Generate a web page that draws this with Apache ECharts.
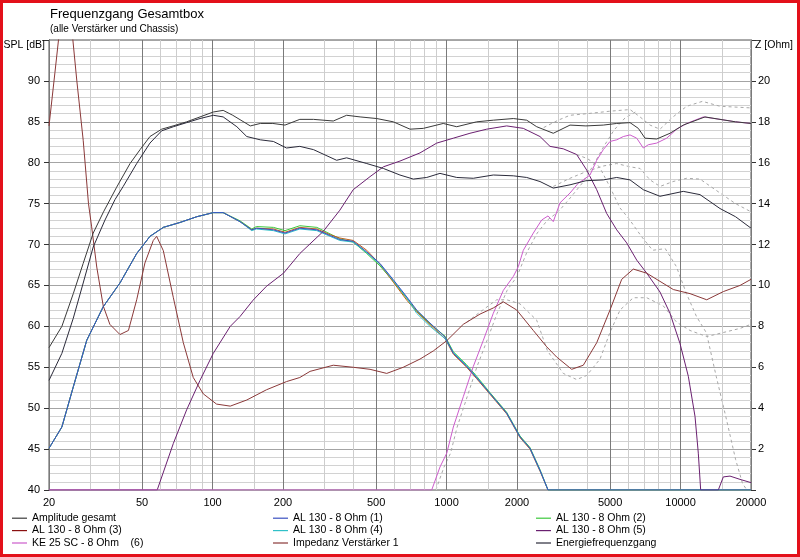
<!DOCTYPE html>
<html><head><meta charset="utf-8">
<script src="https://cdn.jsdelivr.net/npm/echarts@6/dist/echarts.min.js"></script>
<style>
html,body{margin:0;padding:0;background:#fff;}
#c{width:800px;height:557px;position:absolute;left:0;top:0;}
#frame{position:absolute;left:0;top:0;width:800px;height:557px;box-sizing:border-box;border:3px solid #e3101a;pointer-events:none;}
</style></head>
<body><div id="c"></div><div id="frame"></div>
<script>
// ---- data ----
const gridFreqs = [20,30,40,50,60,70,80,90,100,150,200,300,400,500,600,700,800,900,1000,1500,2000,3000,4000,5000,6000,7000,8000,9000,10000,15000,20000];
const labelFreqs = [20,50,100,200,500,1000,2000,5000,10000,20000];

const ampFreq = [20,22.7,25.4,28,30.9,34.2,38.9,44.4,49,54,60.6,67.8,77.5,88.4,100.7,111,122,145,160,181,204,236,270,328,374,427,503,592,698,796,968,1105,1345,1584,1929,2200,2428,2858,3370,3940,4676,5334,6082,6600,7048,7908,9012,10270,12720,14744,17180,20000];
const ampVal  = [57.4,60.0,64.0,67.7,71.4,74.0,77.0,79.9,81.6,83.2,84.1,84.5,85.0,85.6,86.2,86.4,85.8,84.5,84.8,84.8,84.6,85.3,85.3,85.1,85.8,85.6,85.4,85.0,84.1,84.2,84.8,84.4,85.0,85.2,85.4,85.2,84.4,83.6,84.6,84.5,84.6,84.8,84.9,84.2,83.0,82.9,83.6,84.6,85.6,85.3,85.0,84.8];

const enFreq = [20,22.7,25.4,28,30.9,34.7,38.3,41.5,47.4,54,60.6,68,77.5,88.4,100.7,111,127,140,160,182,207,236,270,339,374,456,537,632,721,823,937,1105,1301,1584,1929,2200,2508,2858,3370,3940,4676,5334,6082,6932,8168,10270,12108,14744,17180,20000];
const enVal  = [53.4,56.7,61.0,65.3,69.7,73.0,75.5,77.1,79.9,82.4,83.9,84.4,84.9,85.4,85.8,85.6,84.4,83.2,82.8,82.6,81.8,82.0,81.6,80.3,80.6,79.9,79.3,78.5,78.0,78.2,78.7,78.2,78.1,78.5,78.4,78.2,77.7,76.9,77.3,77.8,77.9,78.2,77.9,76.7,75.9,76.5,76.1,74.4,73.4,72.0];

const woofFreq = [20,22.7,25.4,29,34.1,40.2,47.4,54,61.6,72.6,85.6,100.7,111,131,147,154,182,204,236,279,318,350,399,456,519,592,676,745,850,985,1069,1219,1345,1533,1807,2060,2272,2508,2714,5000,10000,20000];
const woof1 = [45.1,47.7,52.6,58.3,62.4,65.3,68.9,71.0,72.1,72.7,73.4,73.9,73.9,72.8,71.8,72.0,71.8,71.4,72.0,71.8,71.1,70.6,70.4,69.1,67.7,65.7,63.6,62.0,60.4,58.7,56.7,55.1,53.7,51.8,49.4,46.5,45.1,42.4,40,40,40,40];
const woof2 = [45.1,47.7,52.6,58.3,62.4,65.3,68.9,71.0,72.1,72.7,73.4,73.9,73.9,72.9,71.9,72.2,72.1,71.7,72.3,72.1,71.3,70.7,70.3,68.9,67.4,65.5,63.4,61.9,60.3,58.8,56.9,55.3,53.9,51.9,49.5,46.6,45.2,42.5,40,40,40,40];
const woof3 = [45.1,47.7,52.6,58.3,62.4,65.3,68.9,71.0,72.1,72.7,73.4,73.9,73.9,72.8,71.8,72.0,71.9,71.5,72.1,71.9,71.2,70.8,70.5,69.3,67.6,65.4,63.2,61.8,60.2,58.5,56.6,55.0,53.6,51.7,49.3,46.4,45.0,42.3,40,40,40,40];
const woof4 = [45.1,47.7,52.6,58.3,62.4,65.3,68.9,71.0,72.1,72.7,73.4,73.9,73.9,72.8,71.7,71.9,71.7,71.3,71.9,71.7,71.0,70.5,70.3,69.0,67.6,65.6,63.5,61.6,60.0,58.5,56.8,55.2,53.8,51.8,49.4,46.5,45.1,42.4,40,40,40,40];

const midFreq = [20,58,68,77.5,88.4,100.7,119,131,149,170,201,236,297,350,399,471,537,632,770,908,1069,1259,1484,1807,2128,2508,2768,3154,3598,3972,4382,4834,5334,5886,6496,7168,8168,9012,9946,10794,11528,11908,12190,14498,15232,16268,17948,20000];
const midVal  = [40,40,45.7,49.8,53.4,56.7,60.0,61.2,63.2,64.9,66.5,68.9,71.6,74.2,76.7,78.3,79.5,80.2,81.2,82.4,83.0,83.6,84.1,84.5,84.2,83.2,82.0,81.7,81.0,79.1,76.7,73.8,71.8,70.2,68.1,66.5,64.2,61.6,57.9,53.9,49.0,44.5,40,40,41.6,41.7,41.3,40.9];

const tweetFreq = [20,864,937,1002,1069,1179,1301,1436,1584,1748,1929,2026,2128,2348,2550,2714,2858,3054,3370,3656,3840,4102,4382,4676,4994,5334,5694,6082,6496,6932,7282,7908,8724,9628,10624,12512,14744,17180,20000];
const tweetVal  = [40,40,42.8,44.5,47.7,51.4,55.1,58.3,61.6,64.4,66.1,67.3,69.3,71.4,73.0,73.5,72.8,75.1,76.3,77.5,77.9,78.5,80.3,81.6,82.6,82.8,83.2,83.4,83.0,81.8,82.2,82.4,83.0,84.1,84.8,85.6,85.3,85.0,84.8];

const impFreq = [20,21.2,22.2,23.6,25.0,26.3,28,29.5,30.4,32,34.1,36.4,40.2,43.7,47.4,51.4,55.8,57.7,61.6,68,75,82.7,91.3,104,119,140,170,207,236,261,328,399,471,555,653,770,878,1002,1179,1390,1584,1748,1994,2348,2680,2955,3426,3840,4382,4994,5604,6282,7168,8168,9312,10976,12936,15232,17948,20000];
const impVal  = [17.8,20.4,22.5,25.0,22.6,20.0,17.1,14.0,12.9,10.9,9.0,8.1,7.6,7.8,9.3,11.1,12.2,12.4,11.7,9.4,7.2,5.5,4.7,4.2,4.1,4.4,4.9,5.3,5.5,5.8,6.1,6.0,5.9,5.7,6.0,6.4,6.8,7.3,8.1,8.6,8.9,9.2,8.8,7.8,7.0,6.5,5.9,6.1,7.2,8.8,10.3,10.8,10.6,10.2,9.8,9.6,9.3,9.7,10.0,10.3];

// dashed comparison traces (no legend entry)
const ampDashFreq = [2600,3000,3370,4000,5000,6082,6710,7406,8168,9284,10624,12400,14744,20000];
const ampDashVal  = [84.3,85.2,85.8,86.0,86.3,86.5,85.6,84.6,84.1,85.6,86.9,87.5,86.9,86.7];
const enDashFreq = [2858,3370,3940,4676,5334,6082,6710,7406,8168,9284,10624,12108,14744,17180,20000];
const enDashVal  = [77.1,78.1,78.9,79.6,79.9,79.5,79.3,77.9,77.1,77.7,78.1,78.0,76.3,75.0,74.0];
const tweetDashFreq = [900,975,1040,1110,1225,1350,1490,1645,1815,2000,2200,2440,2700,3000,3400,3800,4200,4700,5200,5800,6500];
const tweetDashVal  = [40,42.8,44.5,47.7,51.4,55.1,58.3,61.6,64.4,66.1,69.0,71.4,73.0,74.0,75.8,77.5,79.5,82.0,84.0,85.5,86.3];
const midDashFreq = [3598,4000,4500,5000,5500,6000,6800,7600,8600,9600,10600,11700,12900,14200,15600,17200,18400,19200];
const midDashVal  = [81.0,80.5,79.5,77.0,74.5,73.2,71.0,69.3,69.5,67.3,64.0,61.2,59.2,53.9,49.0,43.7,40.8,40];
const impDashFreq = [1219,1390,1638,1807,2060,2428,2700,3154,3598,3972,4526,4994,5512,6282,7168,8438,9628,10976,12936,15232,17948,20000];
const impDashVal  = [8.2,8.7,9.3,9.3,9.1,8.3,6.8,5.7,5.4,5.6,6.4,7.7,8.8,9.4,9.4,9.0,8.2,7.8,7.5,7.7,7.9,8.1];

const names = ['Amplitude gesamt','AL 130 - 8 Ohm (1)','AL 130 - 8 Ohm (2)','AL 130 - 8 Ohm (3)','AL 130 - 8 Ohm (4)','AL 130 - 8 Ohm (5)','KE 25 SC - 8 Ohm    (6)','Impedanz Verstärker 1','Energiefrequenzgang'];

// ---- build ----
const zip = (f, v) => f.map((x, i) => [x, v[i]]);
const FONT = 'Liberation Sans';
function line(name, data, color, opts) {
  return Object.assign({
    name, type: 'line', data, showSymbol: false, symbol: 'none', smooth: false,
    lineStyle: { color, width: 1 }, itemStyle: { color }, z: 5, clip: true,
    animation: false, silent: true
  }, opts || {});
}
function dashed(data, yIdx) {
  return {
    type: 'line', data, showSymbol: false, symbol: 'none', yAxisIndex: yIdx || 0,
    lineStyle: { color: '#a8a8a8', width: 1, type: [3, 3] }, z: 3, animation: false, silent: true
  };
}

const gridMarks = gridFreqs.map(f => {
  const lab = labelFreqs.indexOf(f) >= 0;
  return {
    xAxis: f,
    lineStyle: { color: lab ? '#7a7a7a' : '#cdcdcd', width: 1, type: 'solid' },
    label: { show: lab, formatter: String(f), position: 'start', distance: 7, color: '#000', fontSize: 11, fontFamily: FONT }
  };
});

const series = [
  { type: 'line', data: [], z: 1, silent: true, animation: false,
    markLine: { silent: true, symbol: ['none', 'none'], animation: false, data: gridMarks } },
  dashed(zip(ampDashFreq, ampDashVal)),
  dashed(zip(enDashFreq, enDashVal)),
  dashed(zip(tweetDashFreq, tweetDashVal)),
  dashed(zip(midDashFreq, midDashVal)),
  dashed(zip(impDashFreq, impDashVal), 1),
  line(names[0], zip(ampFreq, ampVal), '#3a3a3a', { z: 8 }),
  line(names[2], zip(woofFreq, woof2), '#3cc83c', { z: 5 }),
  line(names[3], zip(woofFreq, woof3), '#c0601c', { z: 5 }),
  line(names[4], zip(woofFreq, woof4), '#30c0c8', { z: 6 }),
  line(names[1], zip(woofFreq, woof1), '#3a50c0', { z: 7 }),
  line(names[5], zip(midFreq, midVal), '#6a2070', { z: 6 }),
  line(names[6], zip(tweetFreq, tweetVal), '#cc5ccc', { z: 6 }),
  line(names[7], zip(impFreq, impVal), '#8a3838', { yAxisIndex: 1, z: 6 }),
  line(names[8], zip(enFreq, enVal), '#2a2a3a', { z: 8 })
];
series[8].itemStyle.color = '#8a1010';

const legendBase = {
  orient: 'vertical', icon: 'rect', itemWidth: 15, itemHeight: 1.2, itemGap: 0,
  textStyle: { fontSize: 10.5, fontFamily: FONT, color: '#000', lineHeight: 12.4 },
  selectedMode: false, top: 512, padding: 0
};

const option = {
  backgroundColor: '#fff',
  animation: false,
  textStyle: { fontFamily: FONT },
  title: {
    text: 'Frequenzgang Gesamtbox', subtext: '(alle Verstärker und Chassis)',
    left: 50, top: 8, itemGap: 3, padding: 0,
    textStyle: { fontSize: 13, fontWeight: 'normal', color: '#000', fontFamily: FONT },
    subtextStyle: { fontSize: 10, color: '#000', fontFamily: FONT }
  },
  legend: [
    Object.assign({}, legendBase, { left: 12, data: [names[0], names[3], names[6]] }),
    Object.assign({}, legendBase, { left: 273, data: [names[1], names[4], names[7]] }),
    Object.assign({}, legendBase, { left: 536, data: [names[2], names[5], names[8]] })
  ],
  grid: { left: 49, right: 49, top: 40, bottom: 67, show: true, borderColor: '#555', borderWidth: 1, backgroundColor: 'transparent' },
  xAxis: {
    type: 'log', logBase: 10, min: 20, max: 20000,
    axisLine: { show: false }, axisTick: { show: false }, axisLabel: { show: false },
    splitLine: { show: false }, minorSplitLine: { show: false }
  },
  yAxis: [
    {
      type: 'value', min: 40, max: 95, interval: 5, position: 'left',
      name: 'SPL [dB]', nameLocation: 'end', nameGap: -5,
      nameTextStyle: { align: 'right', verticalAlign: 'middle', padding: [0, 4, 0, 0], fontSize: 10.5, color: '#000', fontFamily: FONT },
      axisLine: { show: true, lineStyle: { color: '#333' } },
      axisTick: { show: true, length: 5, lineStyle: { color: '#333' } },
      axisLabel: { fontSize: 11, color: '#000', margin: 9, fontFamily: FONT, formatter: v => (v === 95 ? '' : v) },
      splitLine: { show: true, lineStyle: { color: '#a4a4a4', width: 1 } },
      minorTick: { show: false, splitNumber: 5 },
      minorSplitLine: { show: true, lineStyle: { color: '#d2d2d2', width: 1 } }
    },
    {
      type: 'value', min: 0, max: 22, interval: 2, position: 'right',
      name: 'Z [Ohm]', nameLocation: 'end', nameGap: -5,
      nameTextStyle: { align: 'left', verticalAlign: 'middle', padding: [0, 0, 0, 4], fontSize: 10.5, color: '#000', fontFamily: FONT },
      axisLine: { show: true, lineStyle: { color: '#333' } },
      axisTick: { show: true, length: 5, lineStyle: { color: '#333' } },
      axisLabel: { fontSize: 11, color: '#000', margin: 7, fontFamily: FONT, formatter: v => (v === 0 || v === 22 ? '' : v) },
      splitLine: { show: false }
    }
  ],
  series
};
const chart = echarts.init(document.getElementById('c'), null, { renderer: 'canvas' });
chart.setOption(option);
</script>
</body></html>
